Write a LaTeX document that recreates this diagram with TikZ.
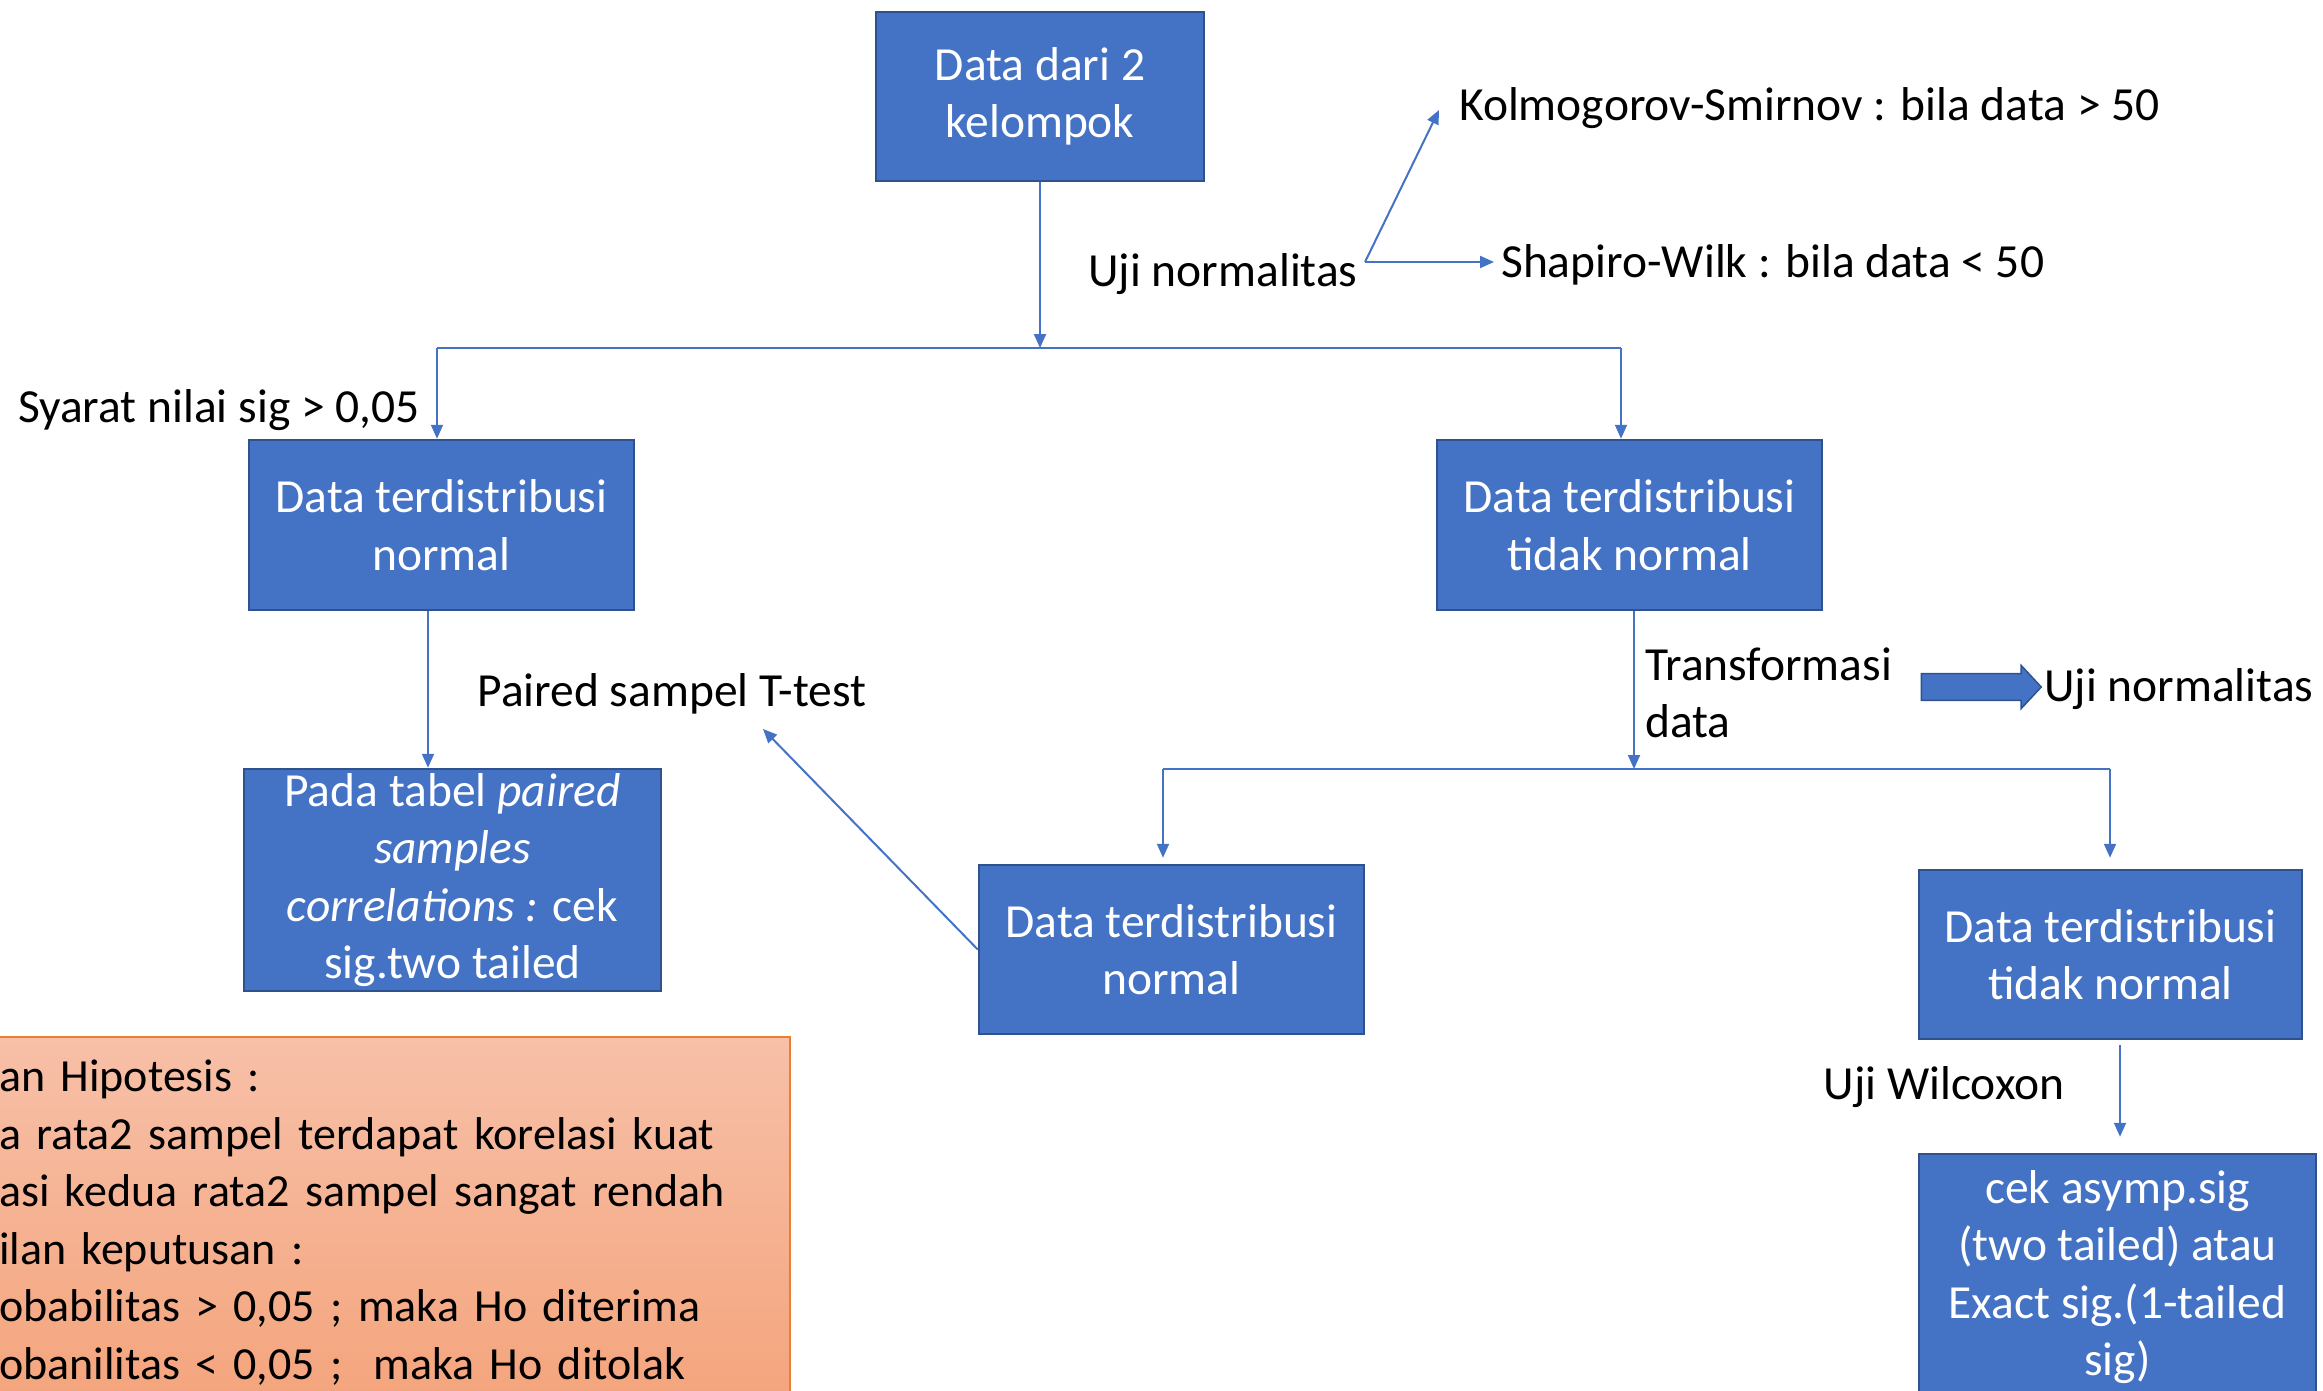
\documentclass[tikz,border=0pt]{standalone}
\usepackage{fontspec}
\setmainfont{Carlito}
\usetikzlibrary{arrows.meta,shapes.arrows}
\definecolor{boxblue}{HTML}{4472C4}
\definecolor{boxedge}{HTML}{2F528F}
\definecolor{peachtop}{HTML}{F7C0A8}
\definecolor{peachbot}{HTML}{F4A47C}
\definecolor{peachedge}{HTML}{ED7D31}
\newcommand\fs{\fontsize{47.5}{57.5}\selectfont}
\newcommand\fsnote{\fontsize{46}{57.5}\selectfont}
\tikzset{
  stepbox/.style={draw=boxedge, fill=boxblue, line width=2.5pt, text=white,
    align=center, font=\fs, inner sep=0pt},
  lbl/.style={font=\fs, inner sep=0pt},
  conn/.style={draw=boxblue, line width=2pt, -{Triangle[length=14pt,width=12pt]}},
  rail/.style={draw=boxblue, line width=1.5pt},
}
\begin{document}
\begin{tikzpicture}[x=1pt,y=-1pt]
\useasboundingbox (0,0) rectangle (2323,1391);
\clip (0,0) rectangle (2323,1391);

% process boxes
\node[stepbox, minimum width=328, minimum height=169] (top) at (1040,96.5) {Data dari 2\\kelompok};
\node[stepbox, minimum width=385, minimum height=170] (nl) at (441.5,525) {Data terdistribusi\\normal};
\node[stepbox, minimum width=385, minimum height=170] (tl) at (1629.5,525) {Data terdistribusi\\tidak normal};
\node[stepbox, minimum width=417, minimum height=222] (pst) at (452.5,880)
  {Pada tabel \textit{paired}\\\textit{samples}\\\textit{correlations :} cek\\sig.two tailed};
\node[stepbox, minimum width=385, minimum height=169] (nm) at (1171.5,949.5) {Data terdistribusi\\normal};
\node[stepbox, minimum width=383, minimum height=169] (tr) at (2110.5,954.5) {Data terdistribusi\\tidak normal};
\node[stepbox, minimum width=397, minimum height=246] (cek) at (2117.5,1277)
  {cek asymp.sig\\(two tailed) atau\\Exact sig.(1-tailed\\sig)};

% hypothesis panel
\node[draw=peachedge, line width=2pt, top color=peachtop, bottom color=peachbot,
  anchor=west, text width=783, align=left, minimum height=371,
  inner xsep=8, inner ysep=0, font=\fsnote] (hyp) at (-10,1222.5)
  {an Hipotesis :\\a rata2 sampel terdapat korelasi kuat\\asi kedua rata2 sampel sangat rendah\\ilan keputusan :\\obabilitas > 0,05 ; maka Ho diterima\\obanilitas < 0,05 ;~ maka Ho ditolak};

% normality test labels
\node[lbl] (ujin) at (1223,274) {Uji normalitas};
\coordinate (fork) at (1365,262);
\coordinate (kstip) at (1439,110);
\node[lbl, anchor=west] (ks) at (1459,108) {Kolmogorov-Smirnov : bila data > 50};
\node[lbl, anchor=west] (sw) at (1501,265) {Shapiro-Wilk : bila data < 50};
\coordinate (swtip) at (1494,262);
\draw[conn] (fork) -- (kstip);
\draw[conn] (fork) -- (swtip);

% first split
\coordinate (bl) at (437,348);
\coordinate (br) at (1621,348);
\draw[rail] (bl) -- (br);
\draw[conn] (top.south) -- (top.south |- bl);
\draw[conn] (bl) -- (bl |- nl.north);
\draw[conn] (br) -- (br |- tl.north);
\node[lbl, anchor=west] (syarat) at (18,410) {Syarat nilai sig > 0,05};

% normal branch
\draw[conn] ([xshift=-13.5pt]nl.south) -- ([xshift=-13.5pt]nl.south |- pst.north);
\node[lbl] (ptt) at (672,694) {Paired sampel T-test};
\coordinate (ptip) at (763,729);
\draw[conn] (nm.west) -- (ptip);

% transformation branch
\coordinate (ml) at (1163,769);
\coordinate (mr) at (2110,769);
\draw[rail] (ml) -- (mr);
\draw[conn] ([xshift=4.5pt]tl.south) -- ([xshift=4.5pt]tl.south |- ml);
\draw[conn, shorten >=6pt] (ml) -- (ml |- nm.north);
\draw[conn, shorten >=11pt] (mr) -- (mr |- tr.north);
\node[lbl, anchor=west, align=left] (tf) at (1645,693) {Transformasi\\data};
\node[single arrow, fill=boxblue, draw=boxedge, line width=1.5pt,
  minimum height=120, minimum width=43, inner xsep=0pt, inner ysep=11pt,
  single arrow head indent=0pt, single arrow tip angle=94] (tarr) at (1975,687) {};
\node[lbl, anchor=west] (ujin2) at (2044,689) {Uji normalitas};

% Wilcoxon step
\draw[conn, shorten <=5pt, shorten >=16pt] ([xshift=9.5pt]tr.south) -- ([xshift=9.5pt]tr.south |- cek.north);
\node[lbl] (wil) at (1944,1087) {Uji Wilcoxon};
\end{tikzpicture}
\end{document}
